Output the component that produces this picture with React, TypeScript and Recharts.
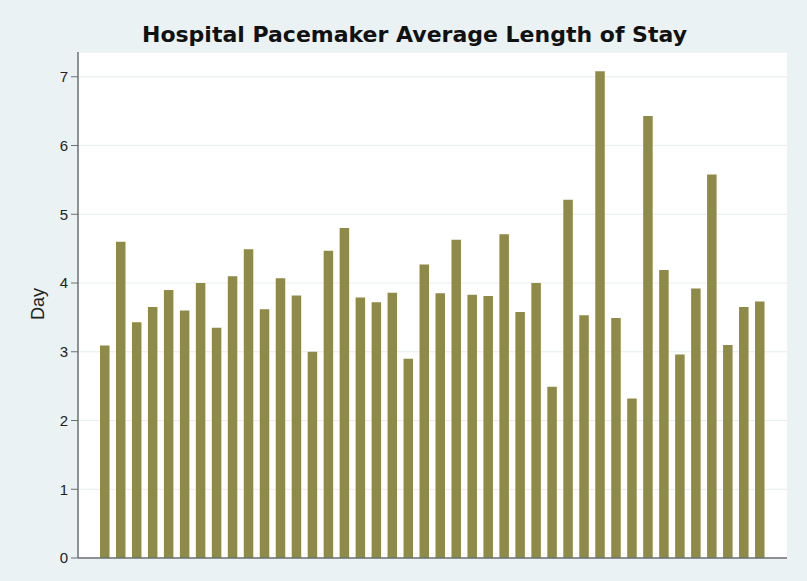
import React from 'react';
import { BarChart, Bar, XAxis, YAxis, CartesianGrid } from 'recharts';

const hospitals = [
  'H01', 'H02', 'H03', 'H04', 'H05', 'H06', 'H07', 'H08', 'H09', 'H10',
  'H11', 'H12', 'H13', 'H14', 'H15', 'H16', 'H17', 'H18', 'H19', 'H20',
  'H21', 'H22', 'H23', 'H24', 'H25', 'H26', 'H27', 'H28', 'H29', 'H30',
  'H31', 'H32', 'H33', 'H34', 'H35', 'H36', 'H37', 'H38', 'H39', 'H40',
  'H41', 'H42',
];

const avgStay = [
  3.09, 4.6, 3.43, 3.65, 3.9, 3.6, 4.0, 3.35, 4.1, 4.49,
  3.62, 4.07, 3.82, 3.0, 4.47, 4.8, 3.79, 3.72, 3.86, 2.9,
  4.27, 3.85, 4.63, 3.83, 3.81, 4.71, 3.58, 4.0, 2.49, 5.21,
  3.53, 7.08, 3.49, 2.32, 6.43, 4.19, 2.96, 3.92, 5.58, 3.1,
  3.65, 3.73,
];

const yTicks = [0, 1, 2, 3, 4, 5, 6, 7];

const data = hospitals.map((h, i) => ({ hospital: h, days: avgStay[i] }));

const BG = '#eaf2f3';
const BAR = '#8e8a47';
const AXIS = '#6b6f72';

export default function App() {
  return (
    <div
      style={{
        position: 'absolute',
        left: 0,
        top: 0,
        width: 807,
        height: 581,
        background: BG,
        fontFamily: '"Liberation Sans", Arial, sans-serif',
      }}
    >
      <div
        style={{
          position: 'absolute',
          left: 0,
          width: 807,
          top: 22,
          textAlign: 'center',
          paddingLeft: 22,
          boxSizing: 'border-box',
          fontFamily: '"DejaVu Sans", sans-serif',
          fontWeight: 'bold',
          fontSize: 22,
          color: '#111',
        }}
      >
        Hospital Pacemaker Average Length of Stay
      </div>
      <BarChart
        width={807}
        height={581}
        data={data}
        margin={{ top: 52, right: 20, bottom: 22, left: 30 }}
        barCategoryGap="40%"
      >
        <CartesianGrid vertical={false} stroke="#e6eef0" fill="#ffffff" />
        <XAxis
          dataKey="hospital"
          tick={false}
          tickLine={false}
          height={1}
          axisLine={{ stroke: AXIS, strokeWidth: 1.5 }}
          padding={{ left: 19, right: 19 }}
        />
        <YAxis
          width={48}
          domain={[0, 7.36]}
          ticks={yTicks}
          allowDataOverflow
          tickSize={7}
          tickMargin={3}
          tick={{ fill: '#222', fontSize: 15 }}
          tickLine={{ stroke: AXIS }}
          axisLine={{ stroke: AXIS, strokeWidth: 1.5 }}
          label={{ value: 'Day', angle: -90, position: 'insideLeft', offset: 8, dy: 15, fill: '#222', fontSize: 18 }}
        />
        <Bar dataKey="days" fill={BAR} barSize={9.5} isAnimationActive={false} />
      </BarChart>
    </div>
  );
}
